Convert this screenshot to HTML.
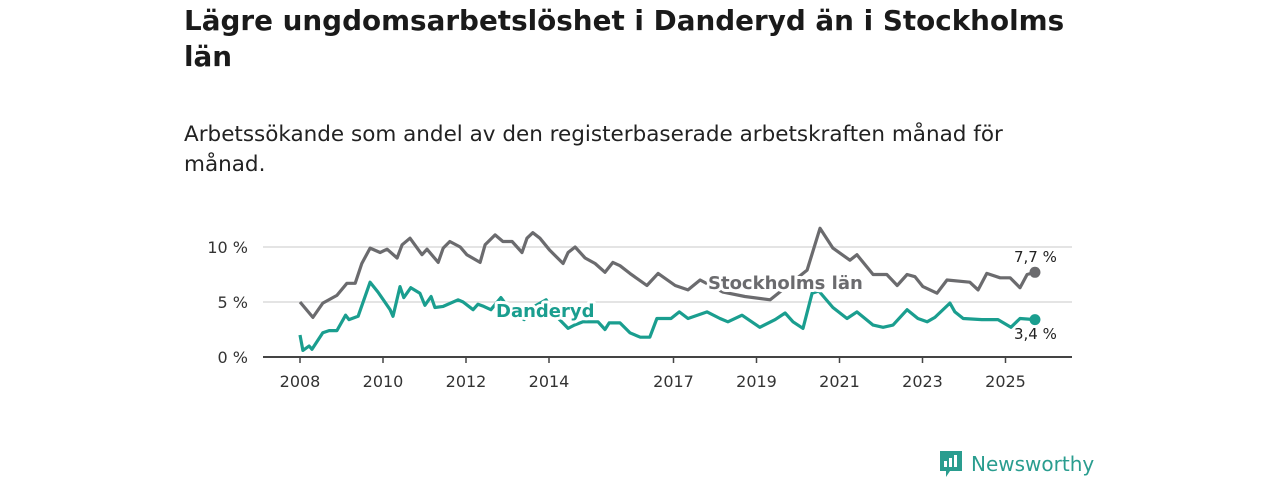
<!DOCTYPE html>
<html><head><meta charset="utf-8">
<style>
body{margin:0;background:#fff;width:1280px;height:480px;overflow:hidden;font-family:"DejaVu Sans","Liberation Sans",sans-serif;color:#1a1a1a}
h1{position:absolute;left:184px;top:3px;margin:0;font-size:27.8px;line-height:36px;font-weight:bold;width:1000px;white-space:nowrap}
p.sub{position:absolute;left:184px;top:120px;margin:0;font-size:21.5px;line-height:30px;width:1000px;color:#222;white-space:nowrap}
svg{position:absolute;left:0;top:0}
.logo{position:absolute;left:938px;top:449px;display:flex;align-items:center;color:#2a9d8f}
</style></head><body>
<h1>Lägre ungdomsarbetslöshet i Danderyd än i Stockholms<br>län</h1>
<p class="sub">Arbetssökande som andel av den registerbaserade arbetskraften månad för<br>månad.</p>
<svg id="chart" width="1280" height="480" style="font-family:'DejaVu Sans','Liberation Sans',sans-serif"></svg>
<div class="logo">
<svg width="26" height="30" viewBox="0 0 26 30" style="position:static;margin-right:7px"><path d="M2 2h22v20H12l-4 6v-6H2z" fill="#2a9d8f"/><rect x="6" y="12" width="3" height="6" fill="#fff"/><rect x="11" y="9" width="3" height="9" fill="#fff"/><rect x="16" y="6" width="3" height="12" fill="#fff"/></svg>
<span style="font-family:'DejaVu Sans',sans-serif;font-size:20px;color:#2a9d8f">Newsworthy</span></div>
<script>
const xTicks=[2008,2010,2012,2014,2017,2019,2021,2023,2025];
const yTicks=[0,5,10];
const sthlmYears=[2008.0,2008.31,2008.55,2008.89,2009.13,2009.33,2009.49,2009.69,2009.93,2010.1,2010.34,2010.46,2010.65,2010.94,2011.06,2011.33,2011.45,2011.61,2011.86,2012.02,2012.34,2012.46,2012.7,2012.89,2013.11,2013.35,2013.47,2013.61,2013.78,2014.02,2014.34,2014.46,2014.63,2014.87,2015.11,2015.35,2015.54,2015.71,2015.95,2016.36,2016.63,2017.04,2017.35,2017.64,2018.19,2018.72,2019.33,2020.22,2020.53,2020.84,2021.25,2021.42,2021.81,2022.14,2022.39,2022.63,2022.82,2023.01,2023.35,2023.59,2024.14,2024.34,2024.55,2024.87,2025.11,2025.35,2025.52,2025.71];
const sthlmValues=[5.0,3.6,4.9,5.6,6.7,6.7,8.5,9.9,9.5,9.8,9.0,10.2,10.8,9.3,9.8,8.6,9.9,10.5,10.0,9.3,8.6,10.2,11.1,10.5,10.5,9.5,10.8,11.3,10.8,9.7,8.5,9.5,10.0,9.0,8.5,7.7,8.6,8.3,7.6,6.5,7.6,6.5,6.1,7.0,5.9,5.5,5.2,7.9,11.7,9.9,8.8,9.3,7.5,7.5,6.5,7.5,7.3,6.4,5.8,7.0,6.8,6.1,7.6,7.2,7.2,6.3,7.5,7.7];
const dandYears=[2008.0,2008.07,2008.22,2008.29,2008.55,2008.7,2008.89,2009.1,2009.18,2009.4,2009.69,2009.88,2010.17,2010.24,2010.41,2010.5,2010.67,2010.89,2011.01,2011.16,2011.25,2011.45,2011.81,2011.93,2012.17,2012.29,2012.43,2012.6,2012.84,2013.06,2013.4,2013.6,2013.93,2014.1,2014.46,2014.61,2014.82,2014.94,2015.18,2015.35,2015.45,2015.71,2015.95,2016.2,2016.43,2016.6,2016.94,2017.14,2017.35,2017.81,2018.12,2018.31,2018.65,2019.08,2019.45,2019.69,2019.88,2020.12,2020.34,2020.5,2020.84,2021.18,2021.42,2021.81,2022.05,2022.29,2022.63,2022.89,2023.11,2023.3,2023.66,2023.78,2023.98,2024.43,2024.82,2025.13,2025.35,2025.71];
const dandValues=[2.0,0.6,1.0,0.7,2.2,2.4,2.4,3.8,3.4,3.7,6.8,5.9,4.3,3.7,6.4,5.4,6.3,5.8,4.7,5.5,4.5,4.6,5.2,5.0,4.3,4.8,4.6,4.3,5.4,4.3,3.4,4.5,5.2,4.0,2.6,2.9,3.2,3.2,3.2,2.5,3.1,3.1,2.2,1.8,1.8,3.5,3.5,4.1,3.5,4.1,3.5,3.2,3.8,2.7,3.4,4.0,3.2,2.6,5.8,6.0,4.5,3.5,4.1,2.9,2.7,2.9,4.3,3.5,3.2,3.6,4.9,4.1,3.5,3.4,3.4,2.7,3.5,3.4];
const NS='http://www.w3.org/2000/svg';
const svg=document.getElementById('chart');
const X=y=>300+(y-2008)*41.5;
const Y=v=>357-v*11;
function mk(t,a,p){const e=document.createElementNS(NS,t);for(const k in a)e.setAttribute(k,a[k]);(p||svg).appendChild(e);return e;}
yTicks.forEach(v=>{
 if(v>0){const g=mk('line',{x1:263,x2:1072,y1:Y(v),y2:Y(v),stroke:'#dcdcdc','stroke-width':1.5});
 
 }
 const t=mk('text',{x:248,y:Y(v)+6,'text-anchor':'end','font-size':16,fill:'#333'});t.textContent=v+' %';
 
 
});
const ax=mk('line',{x1:263,x2:1072,y1:357,y2:357,stroke:'#444','stroke-width':2});


xTicks.forEach(y=>{
 mk('line',{x1:X(y),x2:X(y),y1:357,y2:363,stroke:'#444','stroke-width':1.5});
 const t=mk('text',{x:X(y),y:387,'text-anchor':'middle','font-size':16,fill:'#333'});t.textContent=y;
 
 
});
function line(xs,vs,c,name){
 const d=xs.map((x,i)=>(i?'L':'M')+X(x).toFixed(1)+','+Y(vs[i]).toFixed(1)).join('');
 const p=mk('path',{d:d,fill:'none',stroke:c,'stroke-width':3.2,'stroke-linejoin':'round'});
 
 
 const n=xs.length-1;
 const dot=mk('circle',{cx:X(xs[n]),cy:Y(vs[n]),r:5.5,fill:c});
 
 
}
line(sthlmYears,sthlmValues,'#6b6b6e','stockholm-line');
line(dandYears,dandValues,'#1a9e8f','danderyd-line');
function lab(x,y,txt,c,name,sz,bold){
 const t=mk('text',{x:x,y:y,'font-size':sz,'font-weight':bold?'bold':'normal',fill:c,stroke:'#fff','stroke-width':bold?6:4,'paint-order':'stroke','stroke-linejoin':'round'});
 t.textContent=txt;
 
 
}
lab(496,317,'Danderyd','#1a9e8f','danderyd-label',18,true);
lab(708,289,'Stockholms län','#6b6b6e','stockholm-label',18,true);
lab(1014,262,'7,7 %','#222','stockholm-end-value',15,false);
lab(1014,339,'3,4 %','#222','danderyd-end-value',15,false);
</script>
</body></html>
